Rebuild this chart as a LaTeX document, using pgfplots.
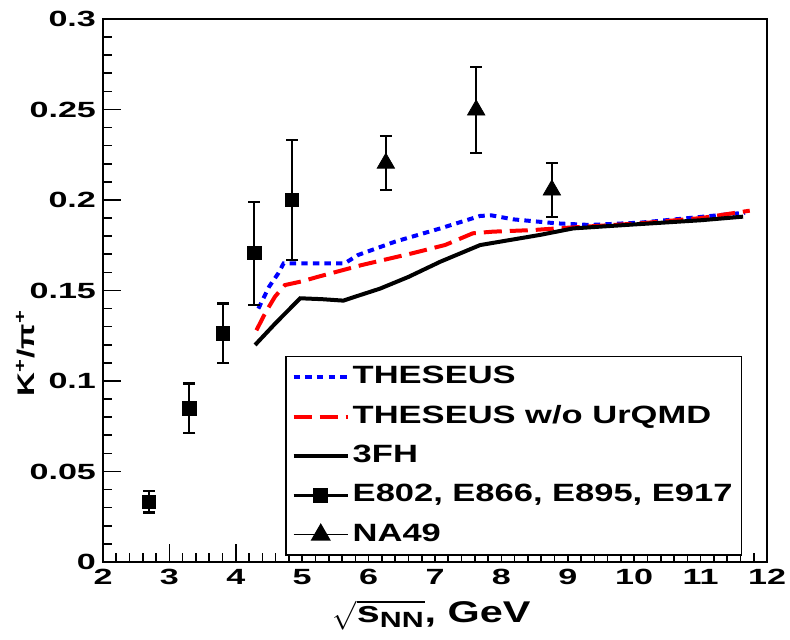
\documentclass[border=0pt]{standalone}
\usepackage{fontspec}
\setmainfont{Liberation Sans}[FakeStretch=1.38]
\newfontfamily\tickfont{Liberation Sans}[FakeStretch=1.55]
\usepackage{pgfplots}
\pgfplotsset{compat=1.18}
\begin{document}
\begin{tikzpicture}
\path[use as bounding box] (-51.5pt,-39pt) rectangle (343.5pt,281pt);
\begin{axis}[
  at={(0,0)}, anchor=south west,
  scale only axis, width=332pt, height=271.5pt,
  xmin=2, xmax=12, ymin=0, ymax=0.3,
  xtick={2,3,4,5,6,7,8,9,10,11,12},
  ytick={0,0.05,0.1,0.15,0.2,0.25,0.3},
  yticklabels={0,0.05,0.1,0.15,0.2,0.25,0.3},
  minor x tick num=4, minor y tick num=4,
  tick align=inside, xtick pos=left, ytick pos=left,
  major tick length=9pt, minor tick length=4.5pt,
  axis line style={line width=0.9pt},
  every tick/.style={black, line width=0.8pt},
  /pgf/number format/assume math mode=true,
  ticklabel style={font=\tickfont\bfseries\fontsize{11}{13}\selectfont},
  xlabel={$\sqrt{\mbox{s}_{\mbox{\fontsize{11}{11}\selectfont NN}}}$, GeV},
  every axis x label/.style={at={(axis description cs:0.495,-0.098)}, anchor=center,
    font=\bfseries\fontsize{15}{18}\selectfont},
  ylabel={K\textsuperscript{+}/π\textsuperscript{+}},
  every axis y label/.style={at={(axis description cs:-0.117,0.385)}, anchor=center, rotate=90,
    font=\bfseries\fontsize{12}{14}\selectfont},
  legend image code/.code={\draw[#1] (0pt,0pt) -- (27pt,0pt);},
  legend cell align=left,
  legend style={at={(axis description cs:0.274,0.011)}, anchor=south west,
    draw=black, line width=0.8pt, fill=white,
    font=\bfseries\fontsize{12.5}{14}\selectfont,
    nodes={text height=9pt, text depth=2.5pt, inner sep=1.5pt},
    row sep=5.2pt, inner xsep=3pt, inner ysep=3pt},
]
% THESEUS
\addplot[blue, line width=2pt, dash pattern=on 3.2pt off 2.6pt] coordinates {
(4.34,0.140) (4.50,0.152) (4.64,0.1595) (4.72,0.165) (5.0,0.165) (5.64,0.165)
(5.84,0.1696) (6.40,0.177) (7.08,0.1843) (7.68,0.1912) (7.85,0.1915) (8.18,0.1893)
(8.83,0.1871) (9.33,0.1862) (10.1,0.1875) (11.16,0.1912) (11.67,0.193)};
\addlegendentry{THESEUS}
% THESEUS w/o UrQMD
\addplot[red, line width=2pt, dash pattern=on 9pt off 4pt] coordinates {
(4.31,0.128) (4.45,0.138) (4.59,0.1466) (4.74,0.153) (4.99,0.155) (5.24,0.1576)
(5.89,0.164) (6.65,0.1705) (7.15,0.1751) (7.57,0.1816) (7.87,0.1825) (8.48,0.1834)
(8.83,0.1843) (10.09,0.1871) (11.0,0.190) (11.74,0.1941)};
\addlegendentry{THESEUS w/o UrQMD}
% 3FH
\addplot[black, line width=2pt] coordinates {
(4.29,0.1199) (4.60,0.132) (4.97,0.1457) (5.30,0.1452) (5.62,0.1444) (5.80,0.1466)
(6.17,0.151) (6.60,0.1575) (7.08,0.1659) (7.68,0.1751) (8.58,0.1807) (9.08,0.1843)
(10.0,0.1865) (11.0,0.1888) (11.64,0.1908)};
\addlegendentry{3FH}
% E802, E866, E895, E917
\addplot[black, only marks, mark=square*, mark size=3.3pt,
  error bars/.cd, y dir=both, y explicit,
  error bar style={line width=1.1pt, black},
  error mark options={rotate=90, mark size=3pt, line width=1.1pt, black}]
  [legend image code/.code={\draw[black,line width=1.2pt] (0pt,0pt) -- (27pt,0pt);
     \draw[black, mark=square*, mark size=3.3pt] plot coordinates {(13.5pt,0pt)};}]
  table[x=x, y=y, y error=e] {
x y e
2.69 0.0333 0.006
3.30 0.0849 0.0137
3.81 0.1263 0.0165
4.28 0.1706 0.0285
4.85 0.2000 0.0330
};
\addlegendentry{E802, E866, E895, E917\hspace{8pt}}
% NA49
\addplot[black, only marks, mark=triangle*, mark size=5pt,
  error bars/.cd, y dir=both, y explicit,
  error bar style={line width=1.1pt, black},
  error mark options={rotate=90, mark size=3pt, line width=1.1pt, black}]
  [legend image code/.code={\draw[black,line width=0.6pt] (0pt,0pt) -- (27pt,0pt);
     \draw[black, mark=triangle*, mark size=5pt] plot coordinates {(13.5pt,0pt)};}]
  table[x=x, y=y, y error=e] {
x y e
6.26 0.2203 0.0150
7.62 0.2497 0.0237
8.76 0.2055 0.0150
};
\addlegendentry{NA49}
\end{axis}
\end{tikzpicture}
\end{document}
